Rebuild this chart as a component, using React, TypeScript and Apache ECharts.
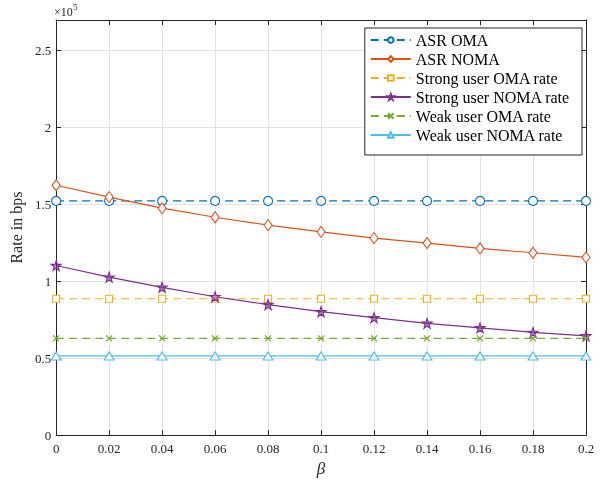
import React, { useEffect, useRef } from "react";
import * as echarts from "echarts";

const beta = [0, 0.02, 0.04, 0.06, 0.08, 0.1, 0.12, 0.14, 0.16, 0.18, 0.2];
const asrOma = [152300, 152300, 152300, 152300, 152300, 152300, 152300, 152300, 152300, 152300, 152300];
const asrNoma = [162500, 154800, 147600, 141700, 136600, 132200, 128100, 124900, 121400, 118600, 115600];
const strongOma = [88700, 88700, 88700, 88700, 88700, 88700, 88700, 88700, 88700, 88700, 88700];
const strongNoma = [110300, 102700, 96100, 90000, 84900, 80300, 76400, 72700, 69800, 66800, 64600];
const weakOma = [62900, 62900, 62900, 62900, 62900, 62900, 62900, 62900, 62900, 62900, 62900];
const weakNoma = [51500, 51500, 51500, 51500, 51500, 51500, 51500, 51500, 51500, 51500, 51500];
const seriesNames = [
  "ASR OMA",
  "ASR NOMA",
  "Strong user OMA rate",
  "Strong user NOMA rate",
  "Weak user OMA rate",
  "Weak user NOMA rate",
];

const FONT = "Liberation Serif";
const STAR =
  "path://M50 0L61.2 34.5L97.6 34.5L68.2 55.9L79.4 90.5L50 69.1L20.6 90.5L31.8 55.9L2.4 34.5L38.8 34.5Z";
const CROSS = "path://M0 0L10 10M10 0L0 10";

export default function App() {
  const ref = useRef<HTMLDivElement>(null);
  useEffect(() => {
    if (!ref.current) return;
    const chart = echarts.init(ref.current, null, { renderer: "svg" });
    const pair = (arr: number[]) => beta.map((b, i) => [b, arr[i]]);
    const mk = (
      name: string,
      data: number[],
      color: string,
      dashed: boolean,
      symbol: string,
      size: number | number[],
      fill: string,
      bw = 1.1
    ) => ({
      name,
      type: "line",
      data: pair(data),
      symbol,
      symbolSize: size,
      showAllSymbol: true,
      lineStyle: { color, width: 1.2, type: dashed ? [8, 5] : "solid" },
      itemStyle: { color: fill, borderColor: color, borderWidth: bw },
      emphasis: { disabled: true },
      z: 3,
    });
    const axisCommon = {
      axisLine: { show: true, onZero: false, lineStyle: { color: "#262626", width: 1 } },
      axisTick: { show: true, inside: true, length: 5, lineStyle: { color: "#262626" } },
    };
    chart.setOption({
      animation: false,
      grid: { left: 54, right: 26, top: 20, bottom: 44, containLabel: false },
      legend: {
        orient: "vertical",
        right: 30,
        top: 28,
        data: seriesNames,
        itemWidth: 40,
        itemHeight: 7,
        itemGap: 3,
        padding: [4, 12, 12, 5],
        backgroundColor: "#fff",
        borderColor: "#262626",
        borderWidth: 1,
        borderRadius: 0,
        textStyle: { fontFamily: FONT, fontSize: 16, color: "#000" },
      },
      xAxis: [
        {
          type: "value",
          min: 0,
          max: 0.2,
          interval: 0.02,
          position: "bottom",
          ...axisCommon,
          axisLabel: {
            fontFamily: FONT,
            fontSize: 13,
            color: "#262626",
            margin: 7,
            formatter: (v: number) => String(Number(v.toFixed(2))),
          },
          splitLine: { show: true, lineStyle: { color: "#e3e3e3", width: 1 } },
          name: "β",
          nameLocation: "middle",
          nameGap: 18,
          nameTextStyle: { fontFamily: FONT, fontSize: 17, fontStyle: "italic", color: "#262626" },
        },
        {
          type: "value",
          min: 0,
          max: 0.2,
          interval: 0.02,
          position: "top",
          ...axisCommon,
          axisLabel: { show: false },
          splitLine: { show: false },
        },
      ],
      yAxis: [
        {
          type: "value",
          min: 0,
          max: 270000,
          interval: 50000,
          position: "left",
          ...axisCommon,
          axisLabel: {
            fontFamily: FONT,
            fontSize: 13,
            color: "#262626",
            margin: 5,
            showMaxLabel: false,
            formatter: (v: number) => String(Number((v / 1e5).toFixed(1))),
          },
          splitLine: { show: true, showMaxLine: false, lineStyle: { color: "#e3e3e3", width: 1 } },
          name: "Rate in bps",
          nameLocation: "middle",
          nameGap: 27,
          nameTextStyle: { fontFamily: FONT, fontSize: 16, color: "#262626" },
        },
        {
          type: "value",
          min: 0,
          max: 270000,
          interval: 50000,
          position: "right",
          ...axisCommon,
          axisLabel: { show: false },
          splitLine: { show: false },
        },
      ],
      graphic: [
        {
          type: "text",
          left: 54,
          top: 6,
          style: { text: "×10", fontFamily: FONT, fontSize: 12, fill: "#262626" },
        },
        {
          type: "text",
          left: 73,
          top: 2,
          style: { text: "5", fontFamily: FONT, fontSize: 9, fill: "#262626" },
        },
      ],
      series: [
        mk(seriesNames[0], asrOma, "#0072BD", true, "circle", 9, "#fff"),
        mk(seriesNames[1], asrNoma, "#D95319", false, "diamond", [8, 11], "#fff"),
        mk(seriesNames[2], strongOma, "#EDB120", true, "rect", 7, "#fff"),
        mk(seriesNames[3], strongNoma, "#7E2F8E", false, STAR, 10, "rgba(126,47,142,0.55)"),
        mk(seriesNames[4], weakOma, "#77AC30", true, CROSS, 6, "none", 1.3),
        mk(seriesNames[5], weakNoma, "#4DBEEE", false, "triangle", [10, 8], "#fff"),
      ],
    });
    return () => chart.dispose();
  }, []);
  return (
    <div
      ref={ref}
      style={{ position: "fixed", left: 0, top: 0, width: 612, height: 482 }}
    />
  );
}
